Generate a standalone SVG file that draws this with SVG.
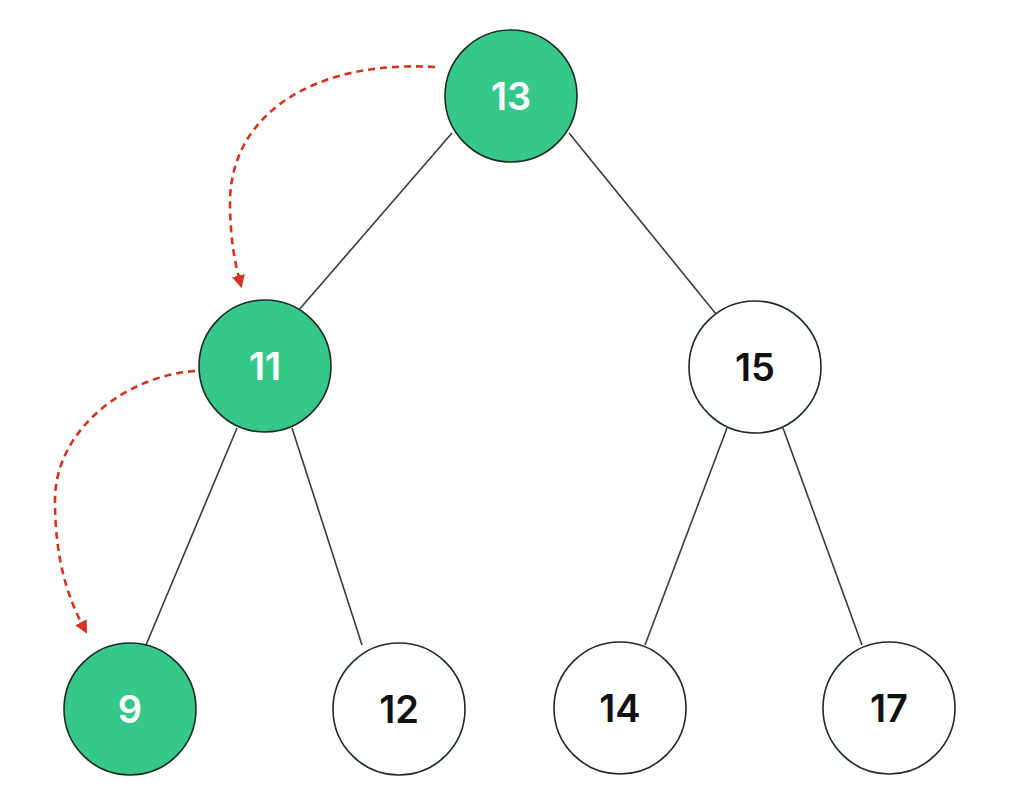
<svg xmlns="http://www.w3.org/2000/svg" width="1024" height="811" viewBox="0 0 1024 811">
<style>
.edge{stroke:#3a3a3a;stroke-width:1.6;fill:none}
.arc{stroke:#d5331c;stroke-width:2.6;fill:none;stroke-dasharray:7 5}
.n{stroke:#1f2a22;stroke-width:1.6}
.g{fill:#36c88a}
.w{fill:#ffffff}
.t{font-family:"Inter","Open Sans",sans-serif;font-weight:600;font-size:38px;text-anchor:middle;dominant-baseline:central}
.tw{fill:#ffffff}
.tb{fill:#111111}
</style>
<defs>
<marker id="ah" viewBox="0 0 10 10" refX="5" refY="5" markerWidth="5" markerHeight="5" orient="auto" markerUnits="strokeWidth">
<path d="M0,0 L10,5 L0,10 z" fill="#d5331c"/>
</marker>
</defs>
<rect width="1024" height="811" fill="#ffffff"/>
<g id="connectors">
<line class="edge" x1="452" y1="133" x2="298" y2="311"/>
<line class="edge" x1="569" y1="133" x2="716" y2="314"/>
<line class="edge" x1="237" y1="428" x2="146" y2="645"/>
<line class="edge" x1="292" y1="428" x2="362" y2="645"/>
<line class="edge" x1="727" y1="428" x2="645" y2="645"/>
<line class="edge" x1="783" y1="428" x2="862" y2="645"/>
<path class="arc" d="M435 67 C320 60 232 110 230 200 C230 240 235 262 240 282" marker-end="url(#ah)"/>
<path class="arc" d="M195 371 C125 376 55 430 55 500 C55 560 68 598 84 628" marker-end="url(#ah)"/>
</g>
<g id="n13"><circle class="n g" cx="511" cy="96" r="66"/><text class="t tw" x="511" y="96">13</text></g>
<g id="n11"><circle class="n g" cx="265" cy="366" r="66"/><text class="t tw" x="265" y="366">11</text></g>
<g id="n15"><circle class="n w" cx="755" cy="367" r="66"/><text class="t tb" x="755" y="367">15</text></g>
<g id="n9"><circle class="n g" cx="130" cy="709" r="66"/><text class="t tw" x="130" y="709">9</text></g>
<g id="n12"><circle class="n w" cx="399" cy="709" r="66"/><text class="t tb" x="399" y="709">12</text></g>
<g id="n14"><circle class="n w" cx="620" cy="708" r="66"/><text class="t tb" x="620" y="708">14</text></g>
<g id="n17"><circle class="n w" cx="889" cy="708" r="66"/><text class="t tb" x="889" y="708">17</text></g>
</svg>
